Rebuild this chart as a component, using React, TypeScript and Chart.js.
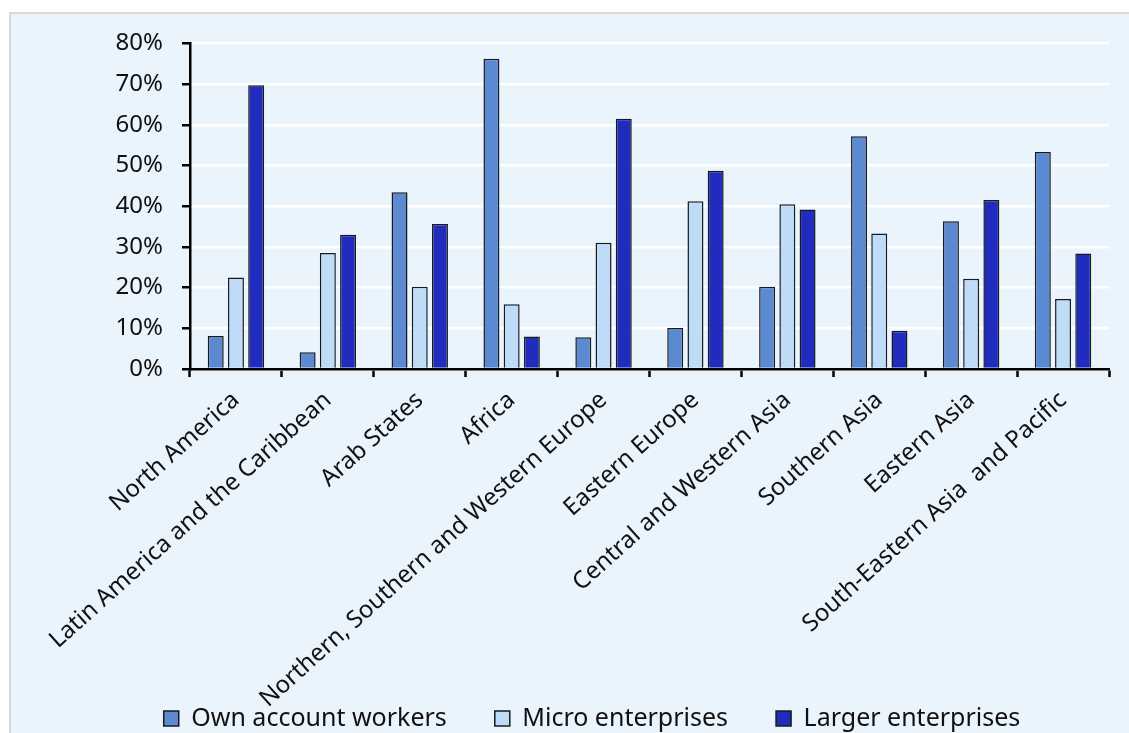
import React, { useEffect, useRef } from "react";
import { Chart, registerables } from "chart.js";

Chart.register(...registerables);

const categories = [
  "North America",
  "Latin America and the Caribbean",
  "Arab States",
  "Africa",
  "Northern, Southern and Western Europe",
  "Eastern Europe",
  "Central and Western Asia",
  "Southern Asia",
  "Eastern Asia",
  "South-Eastern Asia  and Pacific",
];

const ownAccountWorkers = [8.1, 4.1, 43.4, 76.2, 7.8, 10.1, 20.2, 57.2, 36.3, 53.3];
const microEnterprises = [22.5, 28.5, 20.2, 15.9, 31.0, 41.2, 40.5, 33.3, 22.2, 17.2];
const largerEnterprises = [69.7, 33.0, 35.6, 8.0, 61.5, 48.7, 39.2, 9.4, 41.5, 28.4];

const seriesNames = ["Own account workers", "Micro enterprises", "Larger enterprises"];
const yMin = 0;
const yMax = 80;
const yStep = 10;

const FONT = "'Noto Sans', sans-serif";

export default function App() {
  const ref = useRef<HTMLCanvasElement | null>(null);

  useEffect(() => {
    document.documentElement.style.overflow = "hidden";
    document.body.style.overflow = "hidden";
    const canvas = ref.current;
    if (!canvas) return;
    const chart = new Chart(canvas, {
      type: "bar",
      data: {
        labels: categories,
        datasets: [
          {
            label: seriesNames[0],
            data: ownAccountWorkers,
            backgroundColor: "#5C8AD2",
            borderColor: "#1a1a1a",
            borderWidth: 1.5,
          },
          {
            label: seriesNames[1],
            data: microEnterprises,
            backgroundColor: "#BEDCF7",
            borderColor: "#1a1a1a",
            borderWidth: 1.5,
          },
          {
            label: seriesNames[2],
            data: largerEnterprises,
            backgroundColor: "#1F2CBE",
            borderColor: "#1a1a1a",
            borderWidth: 1.5,
          },
        ],
      },
      options: {
        animation: false,
        responsive: false,
        maintainAspectRatio: false,
        datasets: {
          bar: {
            categoryPercentage: 0.66,
            barPercentage: 0.79,
          },
        },
        layout: {
          padding: { top: 20, right: 20, left: 64, bottom: 0 },
        },
        plugins: {
          tooltip: { enabled: false },
          legend: {
            position: "bottom",
            labels: {
              color: "#111",
              font: { family: FONT, size: 25 },
              boxWidth: 15,
              boxHeight: 15,
              padding: 48,
            },
          },
        },
        scales: {
          x: {
            grid: {
              offset: true,
              drawOnChartArea: false,
              drawTicks: true,
              tickLength: 8,
              tickColor: "#000",
              tickWidth: 2.5,
            },
            border: { color: "#000", width: 2.5 },
            ticks: {
              autoSkip: false,
              minRotation: 42,
              maxRotation: 42,
              color: "#111",
              font: { family: FONT, size: 24 },
              padding: 9,
            },
            afterFit: (scale: any) => {
              scale.height = 289;
              scale._computeLabelArea = () => undefined;
            },
          },
          y: {
            min: yMin,
            max: yMax,
            ticks: {
              stepSize: yStep,
              color: "#111",
              font: { family: FONT, size: 24 },
              padding: 19,
              callback: (v: any) => v + "%",
            },
            grid: {
              color: "#FFFFFF",
              lineWidth: 2.5,
              tickColor: "#000",
              tickWidth: 2.5,
              tickLength: 8,
            },
            border: { color: "#000", width: 2.5 },
            afterFit: (scale: any) => {
              scale.width = 115;
            },
          },
        },
      },
    });
    return () => chart.destroy();
  }, []);

  return (
    <div
      style={{
        position: "absolute",
        left: 9,
        top: 12,
        width: 1200,
        height: 800,
        background: "#EAF4FC",
        border: "2px solid #D9D9D9",
        boxSizing: "border-box",
        overflow: "hidden",
      }}
    >
      <canvas
        ref={ref}
        width={1118}
        height={731}
        style={{ position: "absolute", left: 0, top: -4, width: 1118, height: 731 }}
      />
    </div>
  );
}
